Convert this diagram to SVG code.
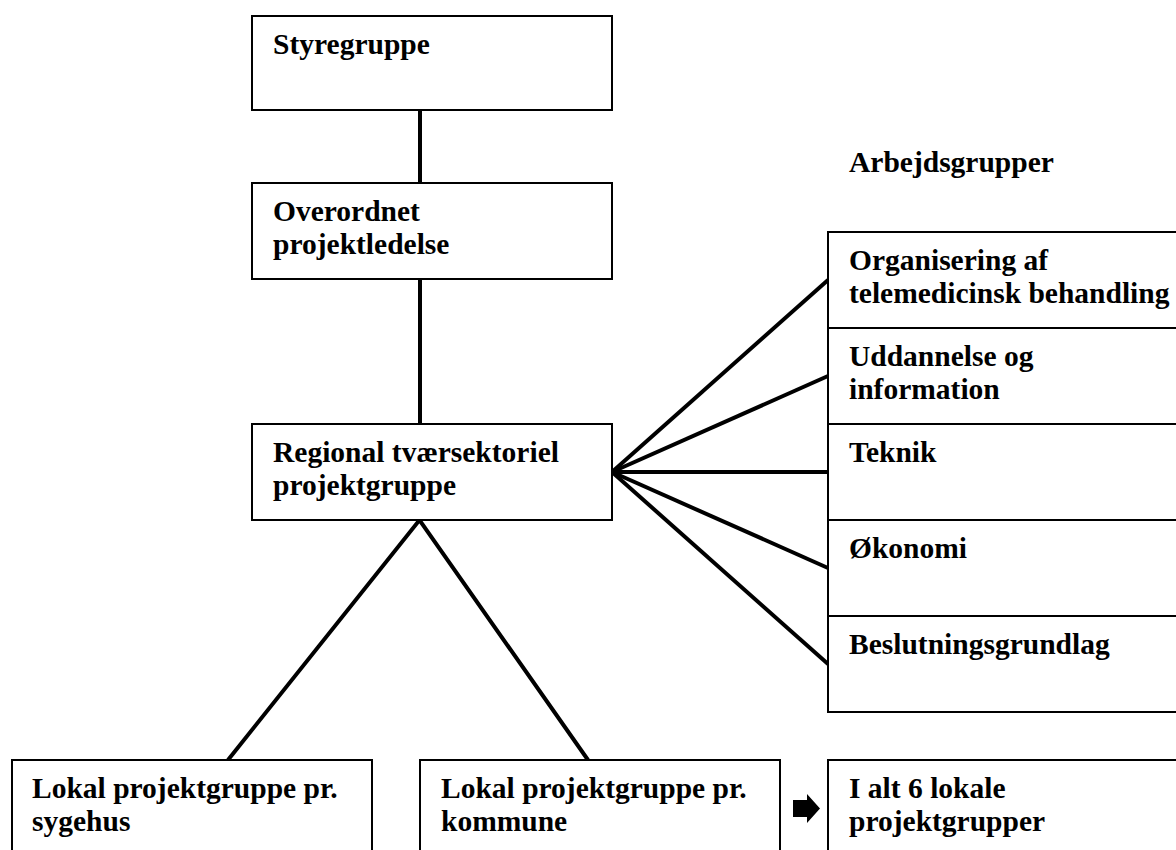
<svg xmlns="http://www.w3.org/2000/svg" width="1176" height="850" viewBox="0 0 1176 850">
<style>
.box{fill:#fff;stroke:#000;stroke-width:2}
.t{font-family:"Liberation Serif","Times New Roman",serif;font-weight:bold;font-size:29.5px;fill:#000}
.c{stroke:#000;stroke-width:4;fill:none;stroke-linecap:butt}
</style>
<rect width="1176" height="850" fill="#fff"/>
<g id="connectors">
<line class="c" x1="420" y1="110" x2="420" y2="183"/>
<line class="c" x1="420" y1="279" x2="420" y2="424"/>
<line class="c" x1="612" y1="472" x2="828" y2="280"/>
<line class="c" x1="612" y1="472" x2="828" y2="376"/>
<line class="c" x1="612" y1="472" x2="828" y2="472"/>
<line class="c" x1="612" y1="472" x2="828" y2="568"/>
<line class="c" x1="612" y1="472" x2="828" y2="664"/>
<polyline class="c" points="228,760 419.5,520 588,760"/>
<polygon points="793,800 807,800 807,794 820,808.5 807,823 807,817 793,817" fill="#000"/>
</g>
<g id="styregruppe">
<rect class="box" x="252" y="16" width="360" height="94"/>
<text class="t" x="273" y="54">Styregruppe</text>
</g>
<g id="overordnet">
<rect class="box" x="252" y="183" width="360" height="96"/>
<text class="t" x="273" y="221">Overordnet</text>
<text class="t" x="273" y="254">projektledelse</text>
</g>
<g id="regional">
<rect class="box" x="252" y="424" width="360" height="96"/>
<text class="t" x="273" y="462">Regional tværsektoriel</text>
<text class="t" x="273" y="495">projektgruppe</text>
</g>
<g id="arbejdsgrupper-label">
<text class="t" x="849" y="172">Arbejdsgrupper</text>
</g>
<g id="organisering">
<rect class="box" x="828" y="232" width="360" height="96"/>
<text class="t" x="849" y="270">Organisering af</text>
<text class="t" x="849" y="303">telemedicinsk behandling</text>
</g>
<g id="uddannelse">
<rect class="box" x="828" y="328" width="360" height="96"/>
<text class="t" x="849" y="366">Uddannelse og</text>
<text class="t" x="849" y="399">information</text>
</g>
<g id="teknik">
<rect class="box" x="828" y="424" width="360" height="96"/>
<text class="t" x="849" y="462">Teknik</text>
</g>
<g id="okonomi">
<rect class="box" x="828" y="520" width="360" height="96"/>
<text class="t" x="849" y="558">Økonomi</text>
</g>
<g id="beslutning">
<rect class="box" x="828" y="616" width="360" height="96"/>
<text class="t" x="849" y="654">Beslutningsgrundlag</text>
</g>
<g id="lokal-sygehus">
<rect class="box" x="12" y="760" width="360" height="110"/>
<text class="t" x="32" y="798">Lokal projektgruppe pr.</text>
<text class="t" x="32" y="831">sygehus</text>
</g>
<g id="lokal-kommune">
<rect class="box" x="420" y="760" width="360" height="110"/>
<text class="t" x="441" y="798">Lokal projektgruppe pr.</text>
<text class="t" x="441" y="831">kommune</text>
</g>
<g id="i-alt">
<rect class="box" x="828" y="760" width="360" height="110"/>
<text class="t" x="849" y="798">I alt 6 lokale</text>
<text class="t" x="849" y="831">projektgrupper</text>
</g>
</svg>
